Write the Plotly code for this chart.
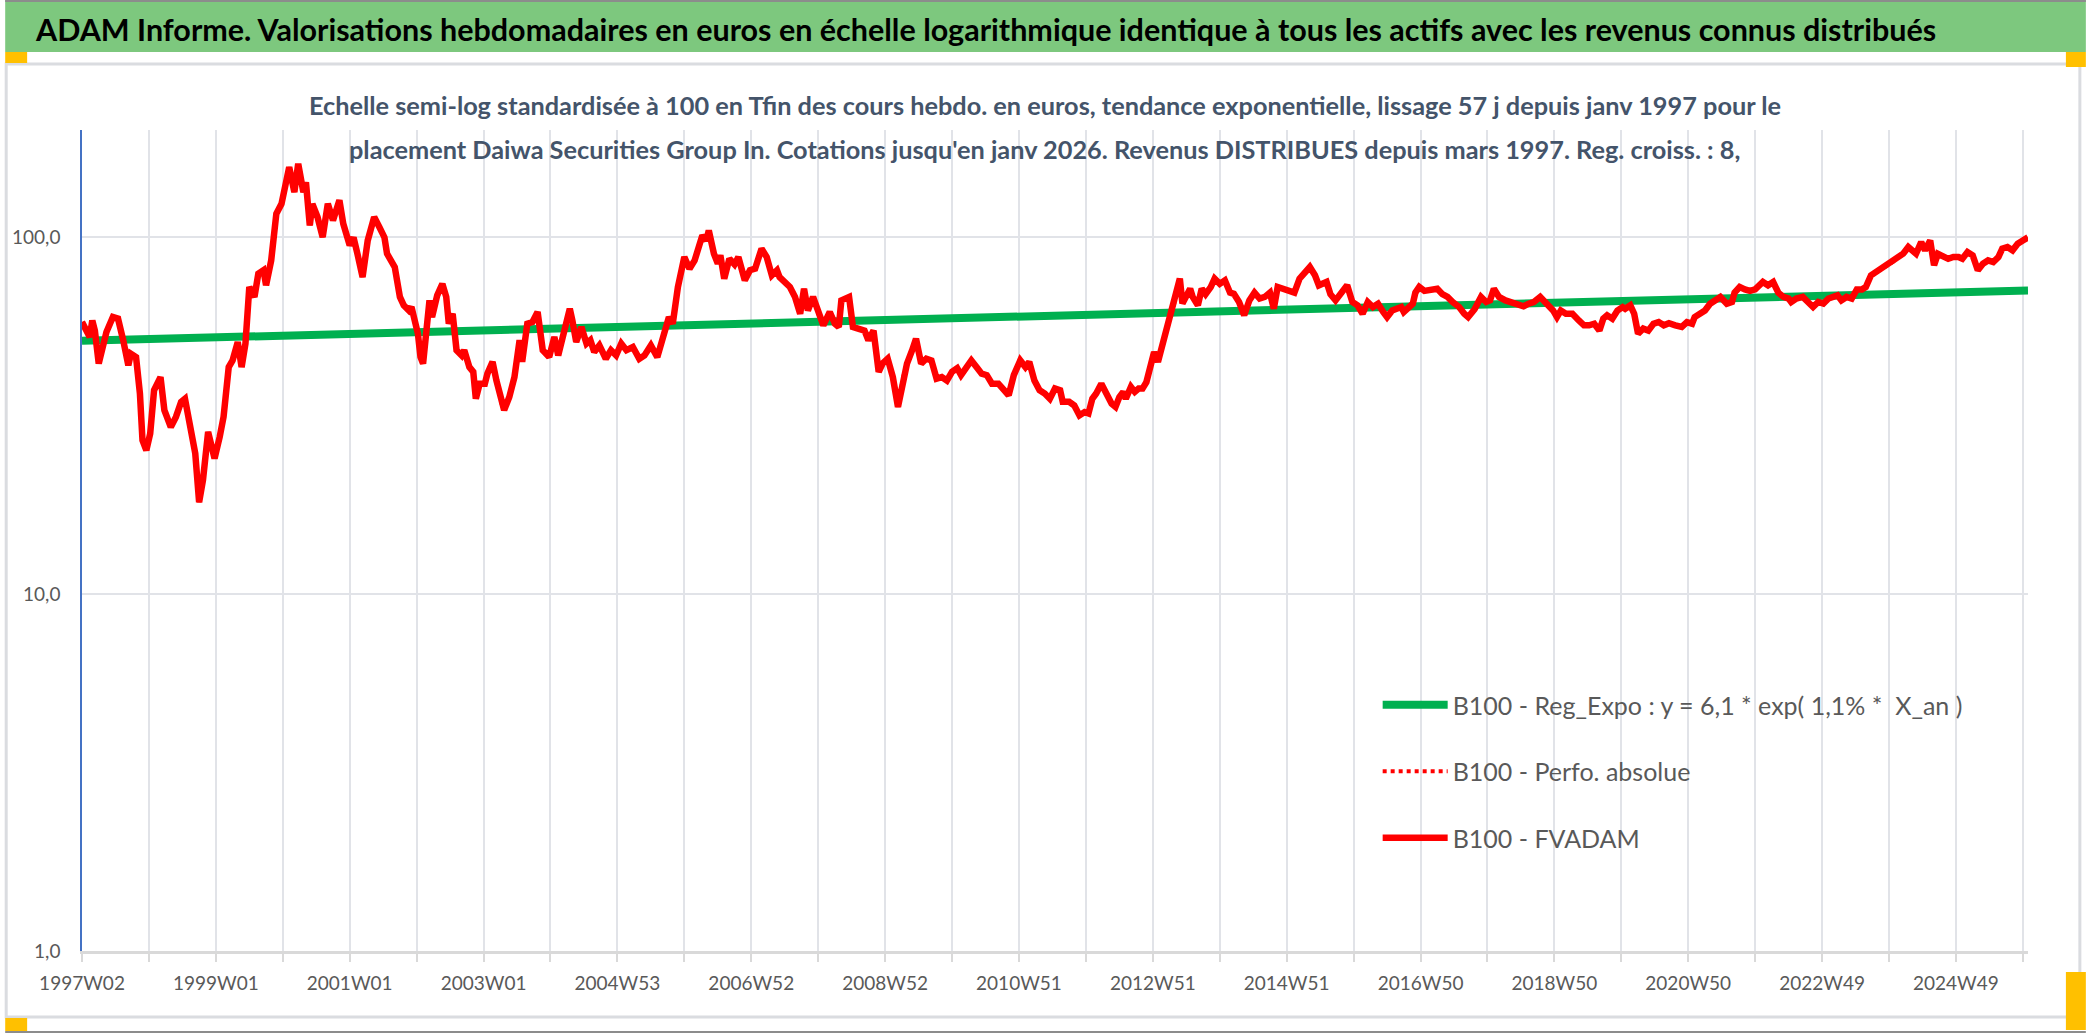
import pandas as pd
import plotly.graph_objects as go

# weekly categories, ISO week labels like 1997W02
week_dates = pd.date_range("1997-01-06", periods=1513, freq="7D")
categories = [f"{d.isocalendar()[0]}W{d.isocalendar()[1]:02d}" for d in week_dates]

# B100 - FVADAM (week index, value)
fvadam_week = [
    0, 4, 6, 8, 10, 13, 15, 19, 24, 28, 32, 36, 38, 42, 45, 47, 50, 53, 56, 59,
    61, 64, 69, 73, 77, 80, 84, 88, 91, 94, 98, 103, 107, 110, 114, 117, 121, 124, 127, 130,
    134, 137, 141, 143, 147, 151, 155, 159, 161, 165, 168, 172, 174, 177, 179, 183, 187, 191, 195, 200,
    203, 208, 211, 214, 218, 222, 227, 231, 235, 237, 243, 247, 250, 254, 256, 261, 263, 265, 267, 270,
    272, 276, 280, 283, 285, 288, 291, 295, 297, 301, 304, 306, 309, 313, 315, 319, 322, 326, 328, 332,
    336, 340, 342, 346, 350, 354, 358, 363, 367, 370, 375, 379, 381, 384, 388, 392, 395, 398, 402, 407,
    411, 415, 419, 423, 428, 433, 437, 442, 447, 451, 456, 459, 463, 468, 472, 476, 478, 482, 485, 487,
    491, 494, 496, 499, 503, 507, 510, 515, 519, 523, 528, 532, 536, 540, 542, 546, 550, 554, 558, 561,
    564, 568, 572, 576, 581, 585, 588, 590, 596, 599, 603, 608, 611, 615, 619, 622, 626, 630, 634, 638,
    641, 645, 648, 652, 656, 660, 664, 668, 672, 676, 680, 683, 687, 691, 695, 699, 703, 707, 712, 716,
    720, 724, 729, 733, 736, 740, 744, 748, 752, 756, 760, 762, 767, 771, 775, 779, 782, 785, 788, 792,
    796, 800, 803, 806, 809, 811, 815, 818, 821, 824, 827, 830, 833, 836, 839, 841, 844, 848, 850, 853,
    855, 858, 861, 863, 867, 870, 873, 877, 880, 884, 888, 892, 895, 899, 903, 907, 911, 915, 919, 923,
    926, 929, 933, 938, 942, 946, 950, 954, 958, 961, 967, 970, 974, 978, 983, 987, 991, 995, 999, 1003,
    1007, 1011, 1014, 1018, 1025, 1027, 1031, 1034, 1036, 1039, 1043, 1047, 1051, 1053, 1057, 1061, 1065, 1070, 1074, 1077,
    1082, 1087, 1091, 1094, 1097, 1101, 1106, 1111, 1115, 1120, 1124, 1128, 1133, 1138, 1143, 1146, 1149, 1153, 1158, 1163,
    1167, 1171, 1175, 1179, 1182, 1185, 1189, 1193, 1197, 1199, 1203, 1206, 1207, 1209, 1213, 1217, 1221, 1225, 1229, 1233,
    1238, 1243, 1247, 1251, 1253, 1257, 1261, 1265, 1269, 1273, 1278, 1282, 1284, 1288, 1292, 1296, 1300, 1302, 1306, 1310,
    1314, 1318, 1322, 1326, 1328, 1332, 1337, 1341, 1345, 1349, 1353, 1357, 1361, 1364, 1367, 1371, 1375, 1379, 1383, 1386,
    1390, 1394, 1398, 1402, 1407, 1411, 1415, 1419, 1423, 1425, 1429, 1432, 1436, 1439, 1442, 1446, 1450, 1454, 1458, 1461,
    1465, 1469, 1473, 1477, 1481, 1485, 1489, 1492, 1496, 1500, 1504, 1508, 1512,
]
fvadam_val = [
    57.9, 54.3, 52.6, 58.5, 54.8, 44.3, 48.3, 54.3, 59.8, 59.2, 51.5, 43.8, 47.2, 46.2, 36.5, 27.0, 25.3, 28.2, 37.3, 38.9,
    40.6, 32.8, 29.4, 31.4, 34.6, 35.3, 30.1, 24.8, 18.1, 20.9, 28.5, 24.0, 27.6, 31.4, 43.3, 45.2, 50.9, 43.3, 50.4, 72.6,
    68.1, 79.1, 80.9, 73.4, 86.2, 116.5, 124.2, 144.5, 157.4, 134.0, 160.8, 134.0, 142.6, 108.0, 124.2, 114.0, 100.2, 124.2, 111.6, 127.0,
    109.2, 95.0, 100.0, 90.0, 77.4, 98.0, 114.0, 106.9, 100.0, 90.0, 82.6, 68.1, 64.5, 62.4, 63.8, 53.7, 46.2, 44.3, 51.5, 66.6,
    59.8, 68.8, 74.1, 68.1, 57.3, 61.1, 48.3, 46.7, 48.3, 43.3, 42.0, 35.3, 38.9, 38.9, 41.5, 44.8, 39.7, 34.2, 32.8, 35.7,
    40.6, 51.5, 44.8, 57.3, 57.9, 61.8, 48.3, 46.2, 52.6, 46.7, 56.1, 63.1, 58.5, 50.9, 56.1, 50.4, 51.5, 47.7, 49.8, 45.7,
    48.3, 46.7, 50.4, 48.3, 49.3, 45.7, 46.7, 49.8, 46.2, 51.5, 59.8, 57.3, 72.6, 88.1, 81.7, 86.2, 92.0, 101.3, 98.0, 104.6,
    90.0, 84.4, 89.1, 76.6, 87.1, 84.0, 88.1, 75.8, 80.9, 81.7, 93.0, 88.1, 78.3, 80.9, 77.4, 75.0, 72.6, 68.1, 61.1, 71.8,
    62.4, 68.1, 61.1, 56.7, 61.8, 57.3, 56.1, 66.6, 68.1, 56.1, 55.5, 54.8, 51.5, 54.8, 42.0, 44.3, 45.7, 40.6, 33.5, 40.6,
    44.3, 48.3, 52.0, 44.3, 45.7, 45.2, 40.2, 40.6, 39.7, 42.0, 43.0, 41.1, 43.3, 45.2, 43.3, 41.5, 41.1, 38.9, 38.9, 37.7,
    36.1, 41.1, 45.2, 43.3, 44.8, 39.7, 37.3, 36.5, 35.3, 37.7, 37.3, 34.6, 34.6, 33.8, 31.7, 32.4, 32.1, 35.3, 36.5, 38.9,
    36.5, 34.2, 33.5, 35.7, 36.9, 35.3, 38.1, 36.9, 37.7, 37.7, 39.3, 43.3, 47.7, 44.8, 49.3, 52.6, 57.3, 63.8, 68.1, 76.6,
    65.3, 68.1, 71.8, 68.1, 64.5, 71.8, 69.3, 72.6, 76.6, 74.1, 75.8, 70.0, 69.5, 65.9, 60.5, 66.6, 70.0, 67.4, 68.1, 70.0,
    63.1, 72.6, 71.8, 71.0, 70.0, 76.6, 79.1, 82.6, 78.3, 73.4, 75.0, 69.3, 66.6, 69.3, 73.4, 65.9, 64.5, 61.1, 65.9, 63.8,
    65.2, 61.8, 59.8, 62.4, 63.8, 61.8, 63.8, 65.2, 70.0, 72.6, 70.8, 71.5, 71.5, 71.8, 69.3, 68.1, 65.9, 63.8, 61.1, 59.8,
    62.9, 68.1, 65.9, 66.6, 71.8, 68.1, 66.6, 65.9, 65.2, 64.1, 65.2, 65.9, 68.1, 65.2, 62.4, 59.8, 62.4, 61.1, 61.1, 58.5,
    56.7, 56.7, 57.3, 54.8, 59.2, 60.5, 59.2, 62.4, 63.8, 63.1, 64.5, 61.1, 57.3, 53.7, 55.5, 54.8, 57.3, 57.9, 56.7, 57.5,
    56.7, 56.1, 57.9, 57.3, 59.8, 61.1, 62.4, 65.2, 66.6, 68.1, 65.2, 65.9, 70.0, 72.6, 71.5, 70.8, 71.5, 72.6, 75.0, 73.4,
    75.0, 70.0, 68.1, 67.4, 65.9, 67.4, 68.1, 65.9, 63.8, 65.9, 65.2, 67.4, 68.1, 68.8, 66.6, 68.1, 67.4, 71.5, 71.5, 72.6,
    78.3, 80.0, 81.7, 83.5, 85.3, 88.1, 90.0, 94.0, 91.0, 90.0, 97.0, 92.0, 98.0, 83.5, 90.0, 88.1, 87.1, 88.1, 88.1, 87.1,
    91.0, 89.1, 80.9, 84.4, 86.2, 85.3, 88.1, 93.0, 94.0, 92.0, 96.0, 98.0, 100.0,
]

# exponential trend: first and last week only (straight on the log scale)
trend_week = [0, 1512]
trend_val = [51.3, 71.0]

y_tickvals = [1, 10, 100]
y_ticktext = ["1,0", "10,0", "100,0"]

banner_text = ("ADAM Informe. Valorisations hebdomadaires en euros en échelle logarithmique "
               "identique à tous les actifs avec les revenus connus distribués")
title_line1 = ("Echelle semi-log standardisée à 100 en Tfin des cours hebdo. en euros, tendance "
               "exponentielle, lissage 57 j depuis janv 1997 pour le")
title_line2 = ("placement Daiwa Securities Group In. Cotations jusqu'en janv 2026. Revenus "
               "DISTRIBUES depuis mars 1997. Reg. croiss. : 8,")

W, H = 2086, 1033
L, R, T, B = 77, 2028, 130, 951


def px(x):
    return (x - L) / (R - L)


def py(y):
    return (B - y) / (B - T)


# gridline every 52 weeks, label every 104 weeks
tick_vals = list(range(0, len(categories), 52))
tick_text = [categories[i] if (i // 52) % 2 == 0 else "" for i in tick_vals]

fig = go.Figure()

fig.add_trace(go.Scatter(x=trend_week, y=trend_val, mode="lines",
                         name="B100 - Reg_Expo : y = 6,1 * exp( 1,1% *  X_an )",
                         line=dict(color="#00B050", width=8), legendgroup="a"))
fig.add_trace(go.Scatter(x=fvadam_week, y=fvadam_val, mode="lines",
                         name="B100 - Perfo. absolue",
                         line=dict(color="#FF0000", width=4, dash="dot"), legendgroup="b"))
fig.add_trace(go.Scatter(x=fvadam_week, y=fvadam_val, mode="lines",
                         name="B100 - FVADAM",
                         line=dict(color="#FF0000", width=6.5), legendgroup="c"))

shapes = [
    # green banner
    dict(type="rect", xref="paper", yref="paper", x0=px(0), x1=px(W), y0=py(52), y1=py(0),
         fillcolor="#7DC87E", line_width=0, layer="below"),
    dict(type="line", xref="paper", yref="paper", x0=px(0), x1=px(W), y0=py(1), y1=py(1),
         line=dict(color="#8C8C8C", width=2)),
    dict(type="line", xref="paper", yref="paper", x0=px(0), x1=px(W), y0=py(1032), y1=py(1032),
         line=dict(color="#8C8C8C", width=2)),
    # chart area frame
    dict(type="rect", xref="paper", yref="paper", x0=px(1), x1=px(2080), y0=py(1017), y1=py(64),
         line=dict(color="#DADCE0", width=3), layer="below"),
    # selection handles
    dict(type="rect", xref="paper", yref="paper", x0=px(0), x1=px(22), y0=py(63), y1=py(52),
         fillcolor="#FFC000", line_width=0),
    dict(type="rect", xref="paper", yref="paper", x0=px(2066), x1=px(W), y0=py(67), y1=py(52),
         fillcolor="#FFC000", line_width=0),
    dict(type="rect", xref="paper", yref="paper", x0=px(0), x1=px(22), y0=py(1031), y1=py(1018),
         fillcolor="#FFC000", line_width=0),
    dict(type="rect", xref="paper", yref="paper", x0=px(2066), x1=px(W), y0=py(1030), y1=py(972),
         fillcolor="#FFC000", line_width=0),
]

annotations = [
    dict(text=banner_text, xref="paper", yref="paper", x=px(28), y=py(29), xanchor="left",
         yanchor="middle", showarrow=False,
         font=dict(family="Lato", size=30.5, color="#000000", weight="bold")),
    dict(text=title_line1, xref="paper", yref="paper", x=px(1042), y=py(105), xanchor="center",
         yanchor="middle", showarrow=False,
         font=dict(family="Lato", size=25.3, color="#44546A", weight="bold")),
    dict(text=title_line2, xref="paper", yref="paper", x=px(1042), y=py(149), xanchor="center",
         yanchor="middle", showarrow=False,
         font=dict(family="Lato", size=25.3, color="#44546A", weight="bold")),
]

fig.update_layout(
    width=W, height=H,
    margin=dict(l=L, r=W - R, t=T, b=H - B, pad=0),
    paper_bgcolor="white", plot_bgcolor="white",
    showlegend=True,
    legend=dict(x=px(1376), y=py(682), xanchor="left", yanchor="top",
                bgcolor="rgba(0,0,0,0)", font=dict(family="Lato", size=25, color="#595959"),
                tracegroupgap=31, itemwidth=65),
    shapes=shapes,
    annotations=annotations,
)

fig.update_xaxes(range=[0, len(categories) - 1], tickmode="array", tickvals=tick_vals, ticktext=tick_text,
                 showgrid=True, gridcolor="#E1E3E8", gridwidth=2, zeroline=False,
                 showline=True, linecolor="#D9D9D9", linewidth=3,
                 ticks="outside", ticklen=8, tickwidth=2, tickcolor="#D9D9D9", tickangle=0,
                 ticklabelstandoff=5, tickfont=dict(family="Lato", size=19, color="#595959"))
fig.update_yaxes(type="log", range=[0, 2.301], tickmode="array", tickvals=y_tickvals, ticktext=y_ticktext,
                 showgrid=True, gridcolor="#E1E3E8", gridwidth=2, zeroline=False,
                 showline=True, linecolor="#4472C4", linewidth=1.5, ticks="",
                 ticklabelstandoff=16, tickfont=dict(family="Lato", size=19, color="#595959"))

# page body has an 8px default margin; drop it so the figure sits at the window corner
fig.write_html("out.html", config={"displayModeBar": False},
               post_script="document.body.style.margin='0';")
